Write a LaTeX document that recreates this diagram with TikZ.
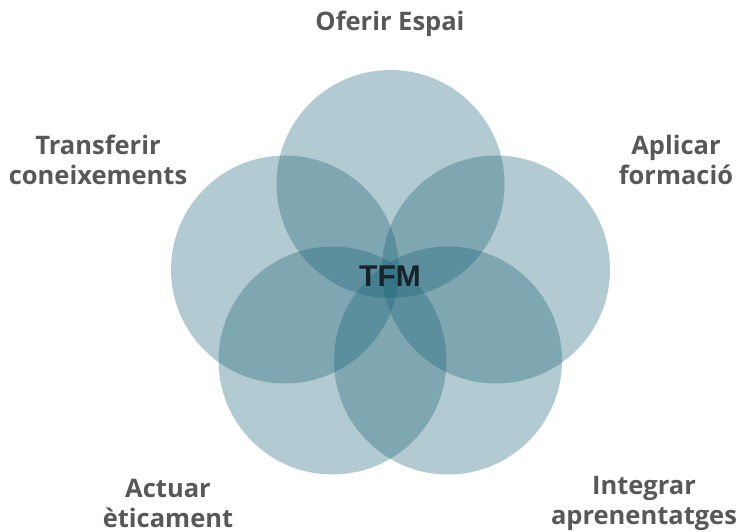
\documentclass[tikz,border=0pt]{standalone}
\usepackage{fontspec}
\setmainfont{Open Sans}
\setsansfont{Liberation Sans}
\begin{document}
\begin{tikzpicture}[x=1pt,y=-1pt,
  petal/.style={circle,minimum size=228pt,inner sep=0pt,fill=petalcol,fill opacity=0.33,draw=none},
  lbl/.style={text=labelgray,font=\bfseries\fontsize{25.5}{30}\selectfont,align=center,inner sep=0pt},
  core/.style={text=coredark,font=\sffamily\bfseries\fontsize{30}{32}\selectfont,inner sep=0pt}]
\definecolor{petalcol}{RGB}{20,95,115}
\definecolor{labelgray}{RGB}{88,88,88}
\definecolor{coredark}{RGB}{24,34,40}
\useasboundingbox (0,0) rectangle (740,532);
\node[petal] (top) at (390.5,184) {};
\node[petal] (left) at (285,269.5) {};
\node[petal] (right) at (496,269.5) {};
\node[petal] (lowleft) at (332.5,360.5) {};
\node[petal] (lowright) at (448,360.5) {};
\node[core] (tfm) at (390,276) {TFM};
\node[lbl] (l1) at (390,24) {Oferir Espai};
\node[lbl] (l2) at (98,160) {Transferir\\coneixements};
\node[lbl] (l3) at (676,160) {Aplicar\\formació};
\node[lbl] (l4) at (168,503) {Actuar\\èticament};
\node[lbl] (l5) at (644,503) {Integrar\\aprenentatges};
\end{tikzpicture}
\end{document}
